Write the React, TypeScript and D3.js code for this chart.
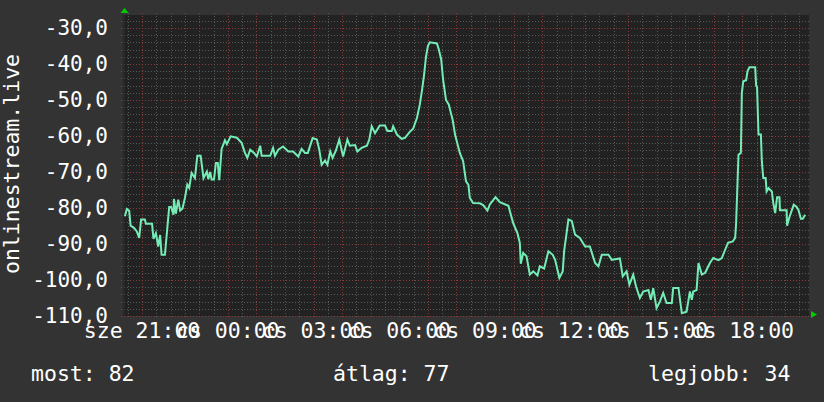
import React, { useRef, useEffect } from "react";
import * as d3 from "d3";

// percek a kezdet óta (sze 20:20), és a mért érték
const minutes = [
  4, 8, 13, 16, 23, 29, 34, 38, 46, 48, 61, 64, 69, 74, 78, 81, 88, 93, 97, 101,
  106, 107, 111, 116, 120, 125, 130, 135, 139, 144, 151, 156, 163, 169, 176, 179, 183, 186, 191, 195,
  199, 202, 207, 214, 218, 226, 239, 249, 256, 261, 267, 275, 281, 288, 291, 309, 315, 319, 326, 336,
  347, 357, 368, 375, 382, 388, 398, 407, 412, 417, 424, 429, 435, 440, 447, 454, 462, 471, 476, 487,
  492, 501, 512, 517, 522, 529, 539, 550, 555, 564, 567, 575, 585, 592, 601, 609, 617, 623, 628, 632,
  636, 640, 644, 659, 663, 668, 672, 678, 684, 689, 692, 697, 707, 714, 720, 725, 728, 735, 749, 756,
  765, 770, 782, 791, 809, 819, 828, 833, 835, 840, 847, 854, 861, 870, 875, 884, 893, 902, 907, 916,
  923, 926, 935, 942, 949, 959, 970, 980, 991, 998, 1005, 1019, 1026, 1043, 1049, 1057, 1063, 1071, 1077, 1085,
  1092, 1103, 1108, 1113, 1120, 1127, 1134, 1141, 1152, 1155, 1166, 1173, 1183, 1190, 1194, 1197, 1204, 1208, 1215, 1222,
  1232, 1239, 1250, 1257, 1264, 1270, 1280, 1285, 1287, 1292, 1297, 1299, 1302, 1308, 1311, 1315, 1327, 1329, 1331, 1334,
  1339, 1341, 1344, 1349, 1351, 1355, 1362, 1365, 1369, 1373, 1378, 1379, 1393, 1394, 1399, 1404, 1408, 1414, 1418, 1423,
  1427, 1432,
];

const values = [
  -82.3, -80.3, -80.8, -84.9, -85.5, -86.5, -88.3, -83.2, -83.2, -84.4, -84.4, -88.6, -87, -90.7, -87.5, -93, -93, -85.6, -79.7, -79.7,
  -81.9, -77.5, -81.6, -77.7, -80.7, -80.1, -77.2, -73.5, -74.4, -70.3, -71.7, -65.5, -65.5, -71.7, -69.9, -72, -70, -72.1, -72.1, -67.5,
  -67.5, -72.3, -63.6, -61.2, -62.3, -60.1, -60.5, -61.9, -64.7, -66.1, -63.8, -64.7, -65.7, -62.7, -65.5, -65.5, -63.3, -65.5, -63.8, -62.9,
  -64.3, -64.3, -65.7, -63.6, -64.7, -64.7, -60.6, -61, -63.8, -68, -66.8, -68, -64.3, -66.1, -64, -61, -65.7, -61, -62.7, -62.5,
  -64.3, -63.3, -62.7, -61, -57.3, -59.2, -57.1, -57.1, -58.6, -58.6, -57.3, -59.6, -60.8, -60.5, -59, -58, -55, -51.3, -47, -43,
  -38, -35, -34, -34.3, -36, -38.8, -44.4, -50, -51.3, -54, -55.5, -59.6, -64.7, -67, -72.6, -73.5, -77.2, -78.6, -78.7, -79.2,
  -80.7, -79, -77, -78.4, -79.4, -84.2, -87, -89.7, -95.5, -92.5, -93.4, -98.5, -97.6, -98.7, -96.2, -96.8, -92, -93, -94.4, -99.4,
  -97.6, -92, -83.2, -83.6, -87.4, -88.3, -90.7, -90.7, -95.3, -96.2, -93, -93, -94.4, -94, -99, -97.6, -101.3, -98.5, -101.8, -105,
  -103.2, -102.8, -105.5, -102.3, -107.8, -106, -103.6, -106.4, -106.4, -102.2, -102.2, -109.2, -108.8, -103.2, -105.5, -103.2, -102.8, -95.3, -98.5, -98,
  -95.3, -93.9, -94.5, -93.9, -91.6, -89.7, -89.3, -88.3, -84.2, -65.2, -64.7, -48.1, -44.8, -44.5, -42, -40.9, -40.9, -46, -46.5, -59.6,
  -59.6, -67, -71.7, -71.7, -75.4, -74.5, -75.4, -78.6, -81.4, -77, -77, -80.6, -80.6, -84.9, -82.5, -80.6, -79.1, -79.7, -80.6, -83,
  -83, -81.9,
];

const yTicks = [-30, -40, -50, -60, -70, -80, -90, -100, -110];
const dayNames = ["v", "h", "k", "sze", "cs", "p", "szo"];
const yTitle = "onlinestream.live";
const legendLabels = ["most", "átlag", "legjobb"];
const legendValues = [82, 77, 34];

const App: React.FC = () => {
  const svgRef = useRef<SVGSVGElement | null>(null);

  useEffect(() => {
    document.body.style.margin = "0";
    const width = 824;
    const height = 402;
    const left = 123, right = 809, top = 15, bottom = 316;
    const font = "DejaVu Sans Mono";

    const start = new Date(Date.UTC(2023, 8, 20, 20, 20));
    const end = new Date(start.getTime() + 1440 * 60000);

    const x = d3.scaleUtc().domain([start, end]).range([left, right]);
    const y = d3.scaleLinear().domain([-110, -26.4]).range([bottom, top]);

    const svg = d3.select(svgRef.current!);
    svg.selectAll("*").remove();

    svg.append("rect").attr("width", width).attr("height", height).attr("fill", "#333333");
    svg.append("rect")
      .attr("x", left).attr("y", top)
      .attr("width", right - left).attr("height", bottom - top)
      .attr("fill", "#222222");

    const grid = svg.append("g").attr("shape-rendering", "crispEdges");

    // vízszintes rács, 2-esével
    const hVals = d3.range(-110, -26, 2);
    grid.selectAll("line.h")
      .data(hVals)
      .join("line")
      .attr("x1", left - 2).attr("x2", right + 2)
      .attr("y1", (d) => Math.round(y(d)) + 0.5)
      .attr("y2", (d) => Math.round(y(d)) + 0.5)
      .attr("stroke", (d) => (d % 10 === 0 ? "#8a3838" : "#585858"))
      .attr("stroke-dasharray", "1,2");

    // függőleges rács, félóránként
    const vTimes = d3.utcMinute.every(30)!.range(start, end);
    grid.selectAll("line.v")
      .data(vTimes)
      .join("line")
      .attr("x1", (d) => Math.round(x(d)) + 0.5)
      .attr("x2", (d) => Math.round(x(d)) + 0.5)
      .attr("y1", top - 2).attr("y2", bottom + 2)
      .attr("stroke", (d) => (d.getUTCMinutes() === 0 ? "#8a3838" : "#585858"))
      .attr("stroke-dasharray", "1,2");

    // tengelyvonalak
    svg.append("line")
      .attr("x1", left + 0.5).attr("x2", left + 0.5)
      .attr("y1", top).attr("y2", bottom)
      .attr("stroke", "#2b2b2b").attr("stroke-width", 2);

    const line = d3.line<number>()
      .x((_, i) => x(new Date(start.getTime() + minutes[i] * 60000)))
      .y((d) => y(d));

    svg.append("path")
      .datum(values)
      .attr("d", line)
      .attr("fill", "none")
      .attr("stroke", "#74ecb6")
      .attr("stroke-width", 2)
      .attr("stroke-linejoin", "miter");

    // nyilak
    svg.append("path")
      .attr("d", `M${left - 2.5},13 L${left + 1.5},8 L${left + 5.5},13 Z`)
      .attr("fill", "#00cc00");
    svg.append("path")
      .attr("d", `M${right + 2},311 L${right + 8},314.5 L${right + 2},318 Z`)
      .attr("fill", "#00cc00");

    // y feliratok
    svg.append("g")
      .selectAll("text")
      .data(yTicks)
      .join("text")
      .attr("x", 108)
      .attr("y", (d) => y(d))
      .attr("dy", "0.32em")
      .attr("text-anchor", "end")
      .attr("fill", "#ffffff")
      .style("font", `21px '${font}'`)
      .text((d) => d3.format(".1f")(d).replace(".", ",").replace("−", "-"));

    // x feliratok
    const labelTimes = d3.utcHour.every(3)!.range(start, end);
    svg.append("g")
      .selectAll("text")
      .data(labelTimes)
      .join("text")
      .attr("x", (d) => x(d))
      .attr("y", 338)
      .attr("text-anchor", "middle")
      .attr("fill", "#ffffff")
      .style("font", `21.5px '${font}'`)
      .text((d) => `${dayNames[d.getUTCDay()]} ${d3.utcFormat("%H:%M")(d)}`);

    svg.append("text")
      .attr("transform", `translate(18.5,164) rotate(-90)`)
      .attr("text-anchor", "middle")
      .attr("fill", "#ffffff")
      .style("font", `21.5px '${font}'`)
      .text(yTitle);

    const legendX = [31, 333, 648];
    svg.append("g")
      .selectAll("text")
      .data(legendLabels)
      .join("text")
      .attr("x", (_, i) => legendX[i])
      .attr("y", 381)
      .attr("fill", "#ffffff")
      .style("font", `21.5px '${font}'`)
      .text((d, i) => `${d}: ${legendValues[i]}`);
  }, []);

  return (
    <div>
      <svg ref={svgRef} width="824" height="402" style={{ display: "block" }} />
    </div>
  );
};

export default App;
